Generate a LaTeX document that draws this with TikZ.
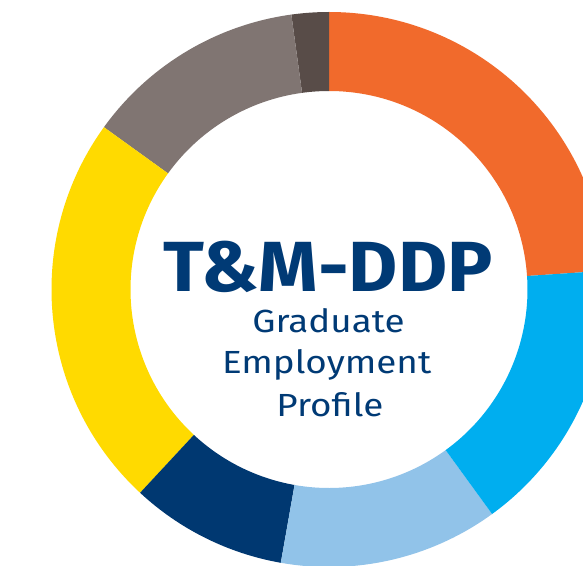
\documentclass[tikz,border=0pt]{standalone}
\usepackage{fontspec}
\setmainfont{Fira Sans}
\definecolor{cOrange}{HTML}{F16A2C}
\definecolor{cCyan}{HTML}{00AEEF}
\definecolor{cPale}{HTML}{91C3E9}
\definecolor{cNavy}{HTML}{003871}
\definecolor{cYellow}{HTML}{FFDA00}
\definecolor{cGray}{HTML}{807572}
\definecolor{cBrown}{HTML}{584C48}
\definecolor{cText}{HTML}{003A75}
\newcommand{\ringseg}[3]{%
  \fill[#1] (#2:277.5) arc[start angle=#2, end angle=#3, radius=277.5]
    -- (#3:198.5) arc[start angle=#3, end angle=#2, radius=198.5] -- cycle;}
\newcommand{\wideT}[1]{\scalebox{1.065}[1]{#1}}
\newcommand{\wideS}[1]{\scalebox{1.15}[1]{#1}}
\begin{document}
\begin{tikzpicture}[x=1pt,y=1pt,
  title/.style={text=cText, font=\fontsize{71}{71}\selectfont\bfseries, inner sep=0pt, anchor=base},
  sub/.style={text=cText, font=\fontsize{32}{32}\selectfont, inner sep=0pt, anchor=base}]
\useasboundingbox[fill=white] (-329,-275.5) rectangle (254,289.5);
\ringseg{cOrange}{3.9}{90}
\ringseg{cBrown}{90}{97.8}
\ringseg{cGray}{97.8}{144.2}
\ringseg{cYellow}{144.2}{227.1}
\ringseg{cNavy}{227.1}{260}
\ringseg{cPale}{260}{306}
\ringseg{cCyan}{306}{363.9}
\node[title] (t) at (-1,-1.5) {\wideT{T\&M-DDP}};
\node[sub] (g) at (-0.5,-42.8) {\wideS{Graduate}};
\node[sub] (e) at (-2.3,-83.8) {\wideS{Employment}};
\node[sub] (p) at (1,-126.5) {\wideS{Profile}};
\end{tikzpicture}
\end{document}
